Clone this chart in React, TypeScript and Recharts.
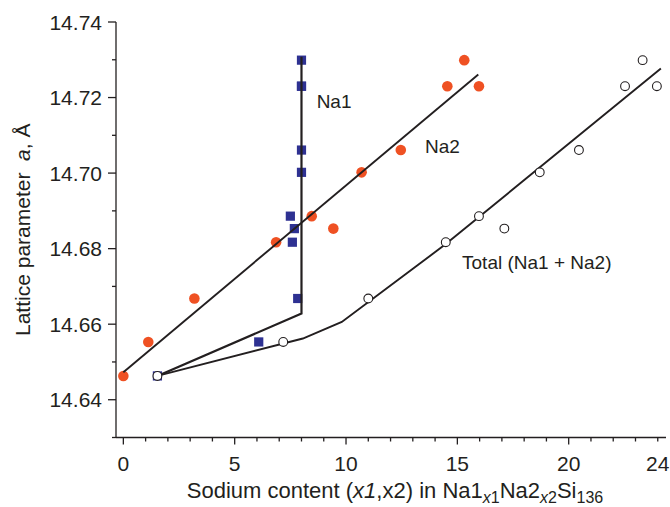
import React from "react";
import { ScatterChart, Scatter, XAxis, YAxis, ReferenceDot } from "recharts";

// ---- data ----
const na1X = [1.53, 6.08, 7.5, 7.59, 7.68, 7.83, 8.0, 8.0, 8.0, 8.0, 8.0];
const na1Y = [14.6463, 14.6553, 14.6886, 14.6817, 14.6853, 14.6668, 14.7002, 14.7061, 14.723, 14.723, 14.7299];

const na2X = [0, 1.12, 3.19, 6.86, 8.46, 9.43, 10.7, 12.46, 14.55, 15.31, 15.97];
const na2Y = [14.6463, 14.6553, 14.6668, 14.6817, 14.6886, 14.6853, 14.7002, 14.7061, 14.723, 14.7299, 14.723];

const totalX = [1.53, 7.18, 11.0, 14.48, 15.97, 17.11, 18.7, 20.46, 22.53, 23.32, 23.96];
const totalY = [14.6463, 14.6553, 14.6668, 14.6817, 14.6886, 14.6853, 14.7002, 14.7061, 14.723, 14.7299, 14.723];

const na1FitX = [1.53, 8.0, 8.0];
const na1FitY = [14.6463, 14.6628, 14.7308];
const na2FitX = [0, 15.94];
const na2FitY = [14.6473, 14.7261];
const totalFitX = [1.53, 8.06, 9.81, 14.48, 24.14];
const totalFitY = [14.6463, 14.6562, 14.6606, 14.6812, 14.7277];

const xTicks = [0, 1, 2, 3, 4, 5, 6, 7, 8, 9, 10, 11, 12, 13, 14, 15, 16, 17, 18, 19, 20, 21, 22, 23, 24];
const xLabelled = [0, 5, 10, 15, 20, 24];
const yTicks = [14.63, 14.64, 14.65, 14.66, 14.67, 14.68, 14.69, 14.7, 14.71, 14.72, 14.73, 14.74];
const yLabelled = [14.64, 14.66, 14.68, 14.7, 14.72, 14.74];

const annotations = [
  { x: 8.68, y: 14.7172, text: "Na1" },
  { x: 13.55, y: 14.7053, text: "Na2" },
  { x: 15.21, y: 14.6745, text: "Total (Na1 + Na2)" },
];

const zip = (xs: number[], ys: number[]) => xs.map((x, i) => ({ x, y: ys[i] }));

const INK = "#231F20";
const ORANGE = "#EF5123";
const NAVY = "#2E3192";
const FONT = "'Liberation Sans', Arial, sans-serif";

const XTick = (props: any) => {
  const { x, y, payload } = props;
  const v = payload.value;
  const major = v % 5 === 0;
  return (
    <g>
      <line x1={x} x2={x} y1={y} y2={y + (major ? 7 : 4)} stroke={INK} strokeWidth={1.3} />
      {xLabelled.includes(v) && (
        <text x={x} y={y + 33} textAnchor="middle" fontSize={21} fill={INK} fontFamily={FONT}>
          {v}
        </text>
      )}
    </g>
  );
};

const YTick = (props: any) => {
  const { x, y, payload } = props;
  const v = payload.value;
  const major = yLabelled.some((t) => Math.abs(t - v) < 1e-6);
  return (
    <g>
      <line x1={x - (major ? 8 : 4)} x2={x} y1={y} y2={y} stroke={INK} strokeWidth={1.3} />
      {major && (
        <text x={x - 14} y={y} dy="0.36em" textAnchor="end" fontSize={21} fill={INK} fontFamily={FONT}>
          {v.toFixed(2)}
        </text>
      )}
    </g>
  );
};

const YLabel = (props: any) => {
  const vb = props.viewBox;
  const cx = vb.x + 22;
  const cy = vb.y + vb.height / 2;
  return (
    <text
      x={cx}
      y={cy}
      transform={`rotate(-90 ${cx} ${cy})`}
      textAnchor="middle"
      dy="0.36em"
      fontSize={21}
      fill={INK}
      fontFamily={FONT}
    >
      Lattice parameter{"\u00a0\u00a0"}
      <tspan fontStyle="italic">a</tspan>, Å
    </text>
  );
};

const XLabel = (props: any) => {
  const vb = props.viewBox;
  const cx = vb.x + vb.width / 2 + 4;
  const by = vb.y + 60;
  return (
    <text x={cx} y={by} textAnchor="middle" fontSize={22} fill={INK} fontFamily={FONT}>
      Sodium content (<tspan fontStyle="italic">x1</tspan>,x2) in Na1
      <tspan fontSize={16} dy={5} fontStyle="italic">x</tspan>
      <tspan fontSize={16}>1</tspan>
      <tspan dy={-5}>Na2</tspan>
      <tspan fontSize={16} dy={5} fontStyle="italic">x</tspan>
      <tspan fontSize={16}>2</tspan>
      <tspan dy={-5}>Si</tspan>
      <tspan fontSize={16} dy={5}>136</tspan>
    </text>
  );
};

const Square = (p: any) => <rect x={p.cx - 4.6} y={p.cy - 4.6} width={9.2} height={9.2} fill={NAVY} />;
const Dot = (p: any) => <circle cx={p.cx} cy={p.cy} r={5.3} fill={ORANGE} />;
const Open = (p: any) => <circle cx={p.cx} cy={p.cy} r={4.4} fill="#fff" stroke={INK} strokeWidth={1.1} />;
const NoShape = () => <g />;

export default function App() {
  return (
    <div style={{ position: "absolute", left: 0, top: 0, background: "#fff" }}>
      <ScatterChart width={670} height={507} margin={{ top: 22, right: 4, left: 0, bottom: 9.5 }}>
        <XAxis
          type="number"
          dataKey="x"
          domain={[-0.33, 24.37]}
          ticks={xTicks}
          interval={0}
          tick={<XTick />}
          tickLine={false}
          tickSize={0}
          tickMargin={0}
          axisLine={{ stroke: INK, strokeWidth: 1.3 }}
          height={60}
          allowDataOverflow
          label={XLabel}
        />
        <XAxis
          xAxisId="top"
          orientation="top"
          type="number"
          domain={[-0.33, 24.37]}
          tick={false}
          tickLine={false}
          axisLine={{ stroke: INK, strokeWidth: 1.3 }}
          height={0}
          allowDataOverflow
        />
        <YAxis
          type="number"
          dataKey="y"
          domain={[14.63, 14.74]}
          ticks={yTicks}
          interval={0}
          tick={<YTick />}
          tickLine={false}
          tickSize={0}
          tickMargin={0}
          axisLine={{ stroke: INK, strokeWidth: 1.3 }}
          width={116}
          allowDataOverflow
          label={YLabel}
        />
        <YAxis
          yAxisId="right"
          orientation="right"
          type="number"
          domain={[14.63, 14.74]}
          tick={false}
          tickLine={false}
          axisLine={{ stroke: INK, strokeWidth: 1.3 }}
          width={0}
          allowDataOverflow
        />
        <Scatter data={zip(na1X, na1Y)} shape={<Square />} isAnimationActive={false} />
        <Scatter data={zip(na2X, na2Y)} shape={<Dot />} isAnimationActive={false} />
        <Scatter
          data={zip(na1FitX, na1FitY)}
          line={{ stroke: INK, strokeWidth: 2.2 }}
          shape={<NoShape />}
          isAnimationActive={false}
        />
        <Scatter
          data={zip(na2FitX, na2FitY)}
          line={{ stroke: INK, strokeWidth: 1.9 }}
          shape={<NoShape />}
          isAnimationActive={false}
        />
        <Scatter
          data={zip(totalFitX, totalFitY)}
          line={{ stroke: INK, strokeWidth: 1.9 }}
          shape={<NoShape />}
          isAnimationActive={false}
        />
        <Scatter data={zip(totalX, totalY)} shape={<Open />} isAnimationActive={false} />
        {annotations.map((a) => (
          <ReferenceDot
            key={a.text}
            x={a.x}
            y={a.y}
            r={0}
            ifOverflow="visible"
            shape={(p: any) => (
              <text x={p.cx} y={p.cy} fontSize={19} fill={INK} fontFamily={FONT}>
                {a.text}
              </text>
            )}
          />
        ))}
      </ScatterChart>
    </div>
  );
}
